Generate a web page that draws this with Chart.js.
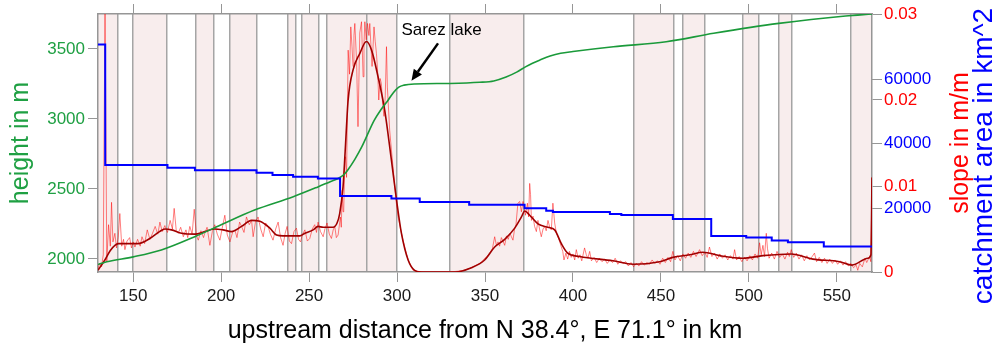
<!DOCTYPE html>
<html><head><meta charset="utf-8">
<script src="https://cdn.jsdelivr.net/npm/chart.js@4/dist/chart.umd.min.js"></script>
<style>html,body{margin:0;padding:0;background:#fff;}canvas{display:block;}</style>
</head><body>
<canvas id="c" width="995" height="347"></canvas>
<script>
// ---------- DATA ----------
const xTicks = [150, 200, 250, 300, 350, 400, 450, 500, 550];
const heightTicks = [2000, 2500, 3000, 3500];
const slopeTicks = [0, 0.01, 0.02, 0.03];
const catchTicks = [20000, 40000, 60000];

// segment boundaries (km) and whether each segment is shaded
const bandEdgesKm = [130, 141.5, 149.7, 169.0, 185.6, 196.0, 204.9, 220.1, 237.6, 242.4, 245.7, 255.6, 259.9, 282.6, 300.0, 329.7, 372.2, 434.5, 457.4, 462.2, 475.0, 496.8, 505.7, 517.0, 524.1, 558.2, 570];
const bandShaded = [1,0,1,0,1,0,1,0,1,0,1,0,1,1,0,1,0,1,0,1,0,1,0,1,0,1];

// height profile [km, m]
const heightProfile = [[130,1960],[135,1980],[150,2015],[166,2064],[185,2159],[200,2245],[219,2350],[241,2445],[255,2515],[262,2552],[267,2578],[270,2605],[272,2636],[276,2712],[280,2802],[287,2990],[291,3070],[295,3136],[298,3190],[301,3228],[304,3242],[310,3250],[330,3254],[347,3262],[355,3272],[362,3300],[368,3335],[373,3372],[377,3398],[381,3420],[387,3450],[393,3470],[400,3482],[423,3516],[453,3552],[480,3612],[517,3683],[555,3736],[570,3750]];

// catchment area steps [km, km^2]
const catchment = [[130,70800],[134.1,33300],[169.5,32450],[185.1,31630],[220.1,30890],[229.2,30170],[240.9,29640],[255,29100],[267.6,23640],[296.8,22860],[312.9,21770],[341,20900],[372.5,19810],[384.8,19070],[388.6,18660],[421,18040],[427.5,17730],[456.8,16490],[478.6,11200],[498.5,10730],[513,9800],[522.2,9240],[542.6,7930],[570,7680]];

// smoothed slope [km, m/m]
const slopeSmooth = [[130,0.0002],[133.9,0.0014],[137,0.0025],[139.6,0.0031],[141.5,0.0033],[152.8,0.0033],[159.5,0.0039],[165,0.0047],[168,0.0050],[171.8,0.0049],[177.5,0.0045],[185.1,0.0044],[190.7,0.0047],[196.4,0.0050],[201,0.0049],[205.9,0.0047],[211.6,0.0053],[217.3,0.0060],[222,0.0059],[227.7,0.0051],[231.5,0.0043],[235.2,0.0042],[244.7,0.0042],[247.6,0.0045],[252.3,0.0049],[255.1,0.0053],[258,0.0052],[263.6,0.0052],[265.9,0.0057],[267.4,0.0068],[269.3,0.0099],[270.5,0.0140],[272.2,0.0200],[275,0.0235],[278.8,0.0254],[282.6,0.0268],[285.5,0.0258],[289.2,0.0227],[293,0.0188],[296.8,0.0130],[299.7,0.0084],[302.5,0.0045],[306.3,0.0014],[310,0.0002],[314,0],[333,0],[342.3,0.0005],[349.8,0.0014],[355.5,0.0029],[361.2,0.0038],[366.9,0.0051],[370.7,0.0064],[372.6,0.0071],[375.4,0.0066],[380.1,0.0056],[385.8,0.0052],[389.6,0.0049],[393.4,0.0033],[397,0.0022],[403.8,0.0018],[422.7,0.0013],[434.1,0.0009],[449.3,0.0012],[456.8,0.0017],[466.3,0.0020],[473.9,0.0023],[483.4,0.0019],[496.6,0.0016],[508,0.0019],[524.1,0.0021],[536.4,0.0015],[551.5,0.0012],[558.6,0.0008],[567.6,0.0016],[569.4,0.0020],[570,0.0110]];

// raw slope [km, m/m]
const slopeRaw = [[130,0.0004],[131,0.0010],[132,0.0006],[133,0.0020],[134,0.0310],[135,0.0012],[136,0.0055],[137,0.0030],[137.7,0.0081],[138.5,0.0035],[139.6,0.0045],[140.5,0.0028],[141.5,0.0040],[142.4,0.0068],[143.5,0.0030],[144.5,0.0038],[145.3,0.0026],[146.5,0.0036],[148,0.0040],[149,0.0028],[150,0.0035],[151,0.0029],[152.5,0.0038],[154,0.0030],[155,0.0041],[156.5,0.0033],[158,0.0049],[159.5,0.0038],[161,0.0045],[162.5,0.0053],[164,0.0044],[165.2,0.0058],[166.5,0.0047],[168,0.0054],[169.5,0.0046],[171,0.0060],[172.3,0.0050],[173.3,0.0074],[174.5,0.0048],[175.6,0.0045],[177,0.0052],[178.5,0.0041],[180,0.0049],[181,0.0040],[182.2,0.0053],[183.5,0.0044],[184.7,0.0073],[186,0.0042],[187,0.0037],[188.5,0.0048],[190,0.0040],[190.7,0.0045],[192,0.0052],[193.6,0.0031],[195,0.0047],[196.4,0.0055],[197.8,0.0044],[199.3,0.0037],[200.5,0.0050],[202.1,0.0066],[203.5,0.0043],[205,0.0035],[206.5,0.0046],[207.8,0.0049],[209,0.0040],[210.5,0.0058],[211.6,0.0053],[213,0.0046],[214.4,0.0064],[216,0.0055],[217.3,0.0060],[218.2,0.0041],[219.5,0.0058],[221,0.0064],[222.5,0.0050],[223.9,0.0041],[225.3,0.0057],[226.7,0.0053],[228,0.0044],[229.5,0.0037],[231,0.0050],[232.4,0.0058],[233.8,0.0040],[235.2,0.0031],[236.4,0.0045],[237.5,0.0053],[238.8,0.0036],[240,0.0033],[241.4,0.0047],[242.8,0.0051],[244,0.0038],[245.1,0.0035],[246.3,0.0044],[247.6,0.0049],[249,0.0036],[250.4,0.0039],[251.8,0.0050],[253.2,0.0055],[254.2,0.0046],[255.1,0.0058],[256.5,0.0047],[258,0.0041],[259,0.0050],[260.2,0.0057],[261.5,0.0044],[262.7,0.0039],[263.7,0.0049],[264.6,0.0053],[265.5,0.0040],[266.5,0.0043],[267.8,0.0064],[268.3,0.0052],[268.8,0.0095],[269.3,0.0070],[269.7,0.0072],[270.3,0.0130],[270.7,0.0134],[271.3,0.0110],[272.2,0.0258],[273,0.0230],[273.7,0.0285],[274.4,0.0262],[275,0.0239],[275.5,0.0275],[276,0.0289],[277,0.0245],[277.8,0.0169],[278.3,0.0220],[278.8,0.0278],[279.8,0.0291],[280.7,0.0227],[281.2,0.0265],[281.7,0.0291],[282.5,0.0270],[283.2,0.0289],[284,0.0275],[284.5,0.0289],[285.2,0.0262],[285.8,0.0239],[286.9,0.0285],[287.6,0.0268],[288.3,0.0254],[289,0.0232],[289.6,0.0200],[290.4,0.0225],[291.1,0.0219],[291.8,0.0195],[292.6,0.0181],[293.3,0.0205],[294,0.0262],[294.5,0.0215],[294.9,0.0200],[295.8,0.0165],[296.8,0.0142],[297.8,0.0120],[298.7,0.0099],[299.6,0.0080],[300.6,0.0064],[302,0.0050],[303.4,0.0037],[305,0.0024],[306.3,0.0014],[307.7,0.0008],[309.1,0.0002],[311,0.0001],[315,0],[320,0],[325,0],[330,0],[335,0.0001],[338,0.0002],[341,0.0004],[343,0.0006],[345,0.0008],[347,0.0010],[348.5,0.0013],[350,0.0016],[351.5,0.0019],[353,0.0023],[354.2,0.0027],[355.5,0.0041],[356.5,0.0031],[357.4,0.0035],[358.3,0.0030],[359.3,0.0040],[360.2,0.0036],[361.2,0.0031],[362.2,0.0042],[363.2,0.0038],[364.2,0.0045],[365,0.0041],[365.9,0.0037],[366.8,0.0050],[367.6,0.0055],[368.7,0.0080],[369.7,0.0082],[370.7,0.0070],[371.6,0.0082],[372.4,0.0074],[373,0.0066],[374.1,0.0080],[374.8,0.0064],[375.4,0.0103],[375.9,0.0090],[376.4,0.0060],[377.3,0.0065],[378.2,0.0053],[379.2,0.0047],[380.1,0.0060],[381,0.0050],[382,0.0041],[383,0.0050],[383.9,0.0053],[384.8,0.0048],[385.8,0.0060],[386.8,0.0052],[387.7,0.0049],[388.6,0.0080],[389.6,0.0057],[390.6,0.0045],[391.5,0.0041],[392.5,0.0035],[393.4,0.0029],[394.2,0.0024],[394.9,0.0014],[396,0.0022],[397,0.0015],[398,0.0024],[399,0.0017],[400,0.0021],[401,0.0014],[401.9,0.0026],[403,0.0016],[404,0.0020],[405,0.0013],[406.6,0.0028],[407.6,0.0020],[408.5,0.0016],[409.5,0.0024],[410.5,0.0013],[412,0.0017],[413.5,0.0011],[415,0.0016],[416.5,0.0012],[418,0.0015],[419.5,0.0010],[421,0.0014],[422.5,0.0011],[424,0.0016],[425.5,0.0009],[427,0.0013],[428.5,0.0010],[430,0.0012],[431.5,0.0007],[433,0.0011],[434.5,0.0006],[436,0.0010],[437.5,0.0007],[439,0.0012],[440.5,0.0008],[442,0.0011],[443.5,0.0009],[445,0.0014],[446.5,0.0010],[448,0.0013],[449.5,0.0009],[451,0.0016],[452.5,0.0011],[454,0.0017],[455.5,0.0012],[456.8,0.0024],[458,0.0014],[459.5,0.0019],[461,0.0013],[462.5,0.0021],[464,0.0016],[465.5,0.0022],[467,0.0017],[468.5,0.0024],[470,0.0018],[472,0.0026],[473.5,0.0019],[475,0.0023],[476.3,0.0017],[477.6,0.0029],[479,0.0018],[480.5,0.0022],[482,0.0015],[483.5,0.0021],[485,0.0016],[486.5,0.0020],[488,0.0014],[489.5,0.0019],[491,0.0015],[491.9,0.0026],[493,0.0014],[494.5,0.0018],[496,0.0012],[497.5,0.0017],[499,0.0013],[500.5,0.0019],[502,0.0014],[503.5,0.0021],[505,0.0016],[506.1,0.0034],[507,0.0020],[508,0.0031],[508.9,0.0018],[509.9,0.0045],[510.6,0.0027],[511.5,0.0016],[513,0.0022],[514.5,0.0015],[516,0.0024],[517.5,0.0017],[519,0.0021],[520.5,0.0015],[522,0.0023],[523,0.0018],[524.1,0.0026],[525.5,0.0017],[527,0.0022],[528.5,0.0015],[530,0.0020],[531.5,0.0013],[533,0.0019],[534.5,0.0014],[536,0.0018],[537.3,0.0022],[538.5,0.0012],[540,0.0017],[541.5,0.0011],[543,0.0016],[544.5,0.0010],[546,0.0015],[547.5,0.0010],[549,0.0014],[550.5,0.0009],[552,0.0013],[553.5,0.0008],[555,0.0012],[556.5,0.0007],[558,0.0010],[559.5,0.0005],[561,0.0008],[561.9,0.0002],[563,0.0010],[564.5,0.0006],[566,0.0016],[567,0.0011],[568.6,0.0018],[569.3,0.0012],[569.7,0.0060],[570,0.0110]];

// annotation anchors [km, m]
const lakeLabel = {text: 'Sarez lake', km: 325.3, m: 3636};
const lakeArrowFrom = [323.3, 3540];
const lakeArrowTo = [308.2, 3274];

// ---------- STYLE ----------
const FONT = '"Liberation Sans", Arial, Helvetica, sans-serif';
Chart.defaults.font.family = FONT;
const GRAY = 'rgb(150,150,150)';
const LINEGRAY = 'rgb(165,165,165)';
const GREEN_T = '#1fa043';
const GREEN_L = '#1a9a3a';
const RED = '#ff0000';
const BLUE = '#0000ff';
const PINK = 'rgb(248,237,237)';

const toXY = arr => arr.map(p => ({x: p[0], y: p[1]}));
const bandPoints = bandShaded.map((s, i) => ({x: bandEdgesKm[i], y: s}));
bandPoints.push({x: bandEdgesKm[bandEdgesKm.length - 1], y: bandShaded[bandShaded.length - 1]});

function rotText(ctx, text, x, y, font, color) {
  ctx.save();
  ctx.translate(x, y);
  ctx.rotate(-Math.PI / 2);
  ctx.font = font;
  ctx.fillStyle = color;
  ctx.textAlign = 'center';
  ctx.textBaseline = 'middle';
  ctx.fillText(text, 0, 0);
  ctx.restore();
}

const overlay = {
  id: 'overlay',
  afterDraw(chart) {
    const ctx = chart.ctx, ca = chart.chartArea;
    const sx = chart.scales.x, sy = chart.scales.y, sc = chart.scales.yC;
    ctx.save();
    // catchment axis ticks (share the right edge with slope axis)
    ctx.strokeStyle = GRAY; ctx.lineWidth = 1;
    ctx.font = '17px ' + FONT; ctx.fillStyle = BLUE;
    ctx.textAlign = 'left'; ctx.textBaseline = 'middle';
    catchTicks.forEach(v => {
      const py = Math.round(sc.getPixelForValue(v)) + 0.5;
      ctx.beginPath(); ctx.moveTo(ca.right, py); ctx.lineTo(ca.right + 10, py); ctx.stroke();
      ctx.fillText(String(v), ca.right + 12, py);
    });
    // right-side axis titles
    const mid = (ca.top + ca.bottom) / 2;
    rotText(ctx, 'slope in m/m', 961, mid, '25px ' + FONT, RED);
    rotText(ctx, 'catchment area in km^2', 984, mid + 13, '28px ' + FONT, BLUE);
    // annotation
    ctx.font = '17px ' + FONT; ctx.fillStyle = '#000';
    ctx.textAlign = 'center'; ctx.textBaseline = 'middle';
    ctx.fillText(lakeLabel.text, sx.getPixelForValue(lakeLabel.km), sy.getPixelForValue(lakeLabel.m));
    const x0 = sx.getPixelForValue(lakeArrowFrom[0]), y0 = sy.getPixelForValue(lakeArrowFrom[1]);
    const x1 = sx.getPixelForValue(lakeArrowTo[0]), y1 = sy.getPixelForValue(lakeArrowTo[1]);
    const ang = Math.atan2(y1 - y0, x1 - x0);
    const hl = 11, hw = 5;
    const bx = x1 - hl * Math.cos(ang), by = y1 - hl * Math.sin(ang);
    ctx.strokeStyle = '#000'; ctx.lineWidth = 2.5;
    ctx.beginPath(); ctx.moveTo(x0, y0); ctx.lineTo(bx, by); ctx.stroke();
    ctx.beginPath();
    ctx.moveTo(x1, y1);
    ctx.lineTo(bx + hw * Math.sin(ang), by - hw * Math.cos(ang));
    ctx.lineTo(bx - hw * Math.sin(ang), by + hw * Math.cos(ang));
    ctx.closePath(); ctx.fillStyle = '#000'; ctx.fill();
    ctx.restore();
  }
};

const setTicks = vals => axis => { axis.ticks = vals.map(v => ({value: v})); };

new Chart(document.getElementById('c'), {
  type: 'line',
  data: {
    datasets: [
      {data: bandPoints, xAxisID: 'x', yAxisID: 'yBand', stepped: true, fill: 'origin',
       backgroundColor: PINK, borderColor: 'rgba(0,0,0,0)', borderWidth: 0, pointRadius: 0, order: 10},
      {data: toXY(slopeRaw), xAxisID: 'x', yAxisID: 'yS', borderColor: 'rgba(255,0,0,0.5)',
       borderWidth: 1, pointRadius: 0, fill: false, order: 5},
      {data: toXY(slopeSmooth), xAxisID: 'x', yAxisID: 'yS', borderColor: '#a00000',
       borderWidth: 1.6, pointRadius: 0, fill: false, cubicInterpolationMode: 'monotone', order: 4},
      {data: toXY(heightProfile), xAxisID: 'x', yAxisID: 'y', borderColor: GREEN_L,
       borderWidth: 1.6, pointRadius: 0, fill: false, cubicInterpolationMode: 'monotone', order: 3},
      {data: toXY(catchment), xAxisID: 'x', yAxisID: 'yC', borderColor: BLUE,
       borderWidth: 2, pointRadius: 0, fill: false, stepped: true, order: 2}
    ]
  },
  options: {
    responsive: false, animation: false, events: [],
    layout: {padding: 0},
    plugins: {legend: {display: false}, tooltip: {enabled: false}, filler: {drawTime: 'beforeDraw'}},
    scales: {
      x: {type: 'linear', position: 'bottom', min: 130, max: 570,
          afterBuildTicks: setTicks(xTicks), afterFit: a => { a.height = 75; },
          grid: {drawOnChartArea: false, drawTicks: true, tickLength: 10, tickColor: GRAY, color: GRAY},
          border: {display: true, color: GRAY, width: 1.5},
          ticks: {color: '#1a1a1a', font: {size: 17}, padding: 4, autoSkip: false, maxRotation: 0, callback: v => String(v)},
          title: {display: true, text: 'upstream distance from N 38.4°, E 71.1° in km', color: '#000', font: {size: 25}, padding: {top: 0, bottom: 1}}},
      xLines: {type: 'linear', position: 'bottom', min: 130, max: 570,
          afterBuildTicks: setTicks(bandEdgesKm.slice(1, -1)), afterFit: a => { a.height = 0; },
          grid: {drawOnChartArea: true, drawTicks: false, color: LINEGRAY, lineWidth: 1.5},
          border: {display: false}, ticks: {display: false}},
      xTop: {type: 'linear', position: 'top', min: 130, max: 570,
          afterBuildTicks: setTicks(xTicks), afterFit: a => { a.height = 14; },
          grid: {drawOnChartArea: false, drawTicks: true, tickLength: 10, tickColor: GRAY, color: GRAY},
          border: {display: true, color: GRAY, width: 1.5}, ticks: {display: false}},
      y: {type: 'linear', position: 'left', min: 1907, max: 3750,
          afterBuildTicks: setTicks(heightTicks), afterFit: a => { a.width = 98; },
          grid: {drawOnChartArea: false, drawTicks: true, tickLength: 10, tickColor: GRAY, color: GRAY},
          border: {display: true, color: GRAY, width: 1.5},
          ticks: {color: GREEN_T, font: {size: 17}, padding: 3, autoSkip: false, callback: v => String(v)},
          title: {display: true, text: 'height in m', color: GREEN_T, font: {size: 25}, padding: {top: 6, bottom: 0}}},
      yS: {type: 'linear', position: 'right', min: 0, max: 0.03,
          afterBuildTicks: setTicks(slopeTicks), afterFit: a => { a.width = 123; },
          grid: {drawOnChartArea: false, drawTicks: true, tickLength: 10, tickColor: GRAY, color: GRAY},
          border: {display: true, color: GRAY, width: 1.5},
          ticks: {color: RED, font: {size: 17}, padding: 2, autoSkip: false, callback: v => v === 0 ? '0' : v.toFixed(2)}},
      yC: {type: 'linear', position: 'right', min: 0, max: 80250, display: false},
      yBand: {type: 'linear', position: 'left', min: 0, max: 1, display: false}
    }
  },
  plugins: [overlay]
});
</script>
</body></html>
